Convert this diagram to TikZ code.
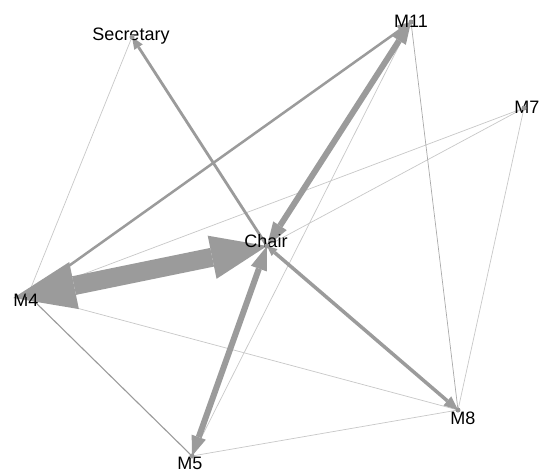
\documentclass[tikz,border=0pt]{standalone}
\usepackage{fontspec}
\setmainfont{Liberation Sans}
\usetikzlibrary{arrows.meta,backgrounds}
\definecolor{heavy}{RGB}{155,155,155}
\definecolor{light}{RGB}{200,200,200}
\definecolor{dotgray}{RGB}{150,150,150}
\begin{document}
\begin{tikzpicture}[x=1pt,y=-1pt,
  vtx/.style={circle,fill=dotgray,inner sep=0pt,minimum size=5pt},
  lab/.style={anchor=base,inner sep=0pt,font=\fontsize{18}{20}\selectfont,text=black},
  thinedge/.style={draw=light,line width=0.7pt},
  heavyedge/.style={draw=heavy},
]
\useasboundingbox (0,0) rectangle (542,472);
% labels
\node[lab] (secL) at (131,40) {Secretary};
\node[lab] (m11L) at (411,27) {M11};
\node[lab] (m7L) at (527,113) {M7};
\node[lab] (chairL) at (266,247) {Chair};
\node[lab] (m4L) at (26,306) {M4};
\node[lab] (m5L) at (190,469) {M5};
\node[lab] (m8L) at (463,424) {M8};
% vertices
\node[vtx] (sec) at (132,37) {};
\node[vtx] (m11) at (411,22) {};
\node[vtx] (m7) at (524,108) {};
\node[vtx] (chair) at (267,246) {};
\node[vtx] (m4) at (28,295) {};
\node[vtx] (m5) at (192,456) {};
\node[vtx] (m8) at (458,410) {};
\begin{scope}[on background layer]
\fill[white] (0,0) rectangle (542,472);
% thin edges
\draw[thinedge] (m4.center) -- (sec.center);
\draw[thinedge] (m4.center) -- (m7.center);
\draw[thinedge] (chair.center) -- (m7.center);
\draw[thinedge,draw=light!85!black] (m11.center) -- (m8.center);
\draw[thinedge] (m7.center) -- (m8.center);
\draw[thinedge] (m11.center) -- (m5.center);
\draw[thinedge] (m4.center) -- (m8.center);
\draw[thinedge] (m5.center) -- (m8.center);
\draw[draw=heavy,line width=1.1pt] (m4.center) -- (m5.center);
% heavy edges
\draw[heavyedge,line width=2.5pt,-{Triangle[length=14pt,width=11pt,line width=0pt]}] (m4.center) -- (m11.center);
\draw[heavyedge,line width=2.8pt,-{Triangle[length=12pt,width=10pt,line width=0pt]}] (chair.center) -- (sec.center);
\draw[heavyedge,line width=3.5pt,{Triangle[length=10pt,width=9pt,line width=0pt]}-{Triangle[length=14pt,width=12pt,line width=0pt]}] (chair.center) -- (m8.center);
\draw[heavyedge,line width=6pt,{Triangle[length=24pt,width=16pt,line width=0pt]}-{Triangle[length=22pt,width=16pt,line width=0pt]}] (chair.center) -- (m11.center);
\draw[heavyedge,line width=6pt,{Triangle[length=24pt,width=17pt,line width=0pt]}-{Triangle[length=20pt,width=15pt,line width=0pt]}] (chair.center) -- (m5.center);
\draw[heavyedge,line width=19pt,shorten >=-15pt,{Triangle[length=56pt,width=44pt,line width=0pt]}-{Triangle[length=62pt,width=48pt,line width=0pt]}] (chair.center) -- (m4.center);
\end{scope}
\end{tikzpicture}
\end{document}
